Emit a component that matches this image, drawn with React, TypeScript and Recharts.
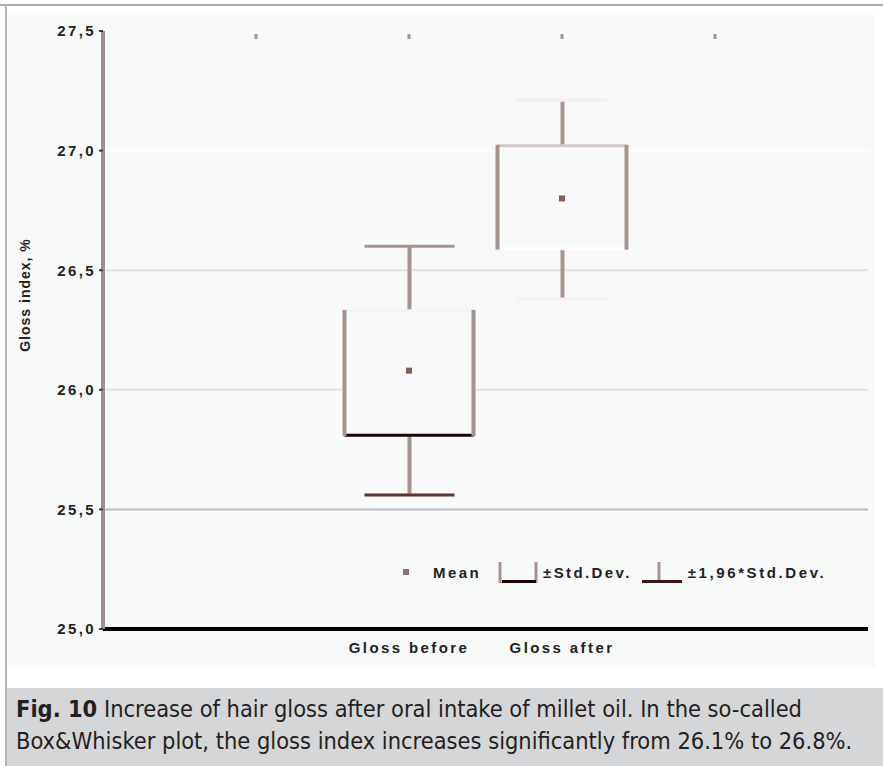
import React from "react";
import {
  ComposedChart, Bar, Scatter, XAxis, YAxis, ReferenceLine, Legend,
} from "recharts";

// values
const groups = ["Gloss before", "Gloss after"];
const groupX = [2, 3];
const means = [26.08, 26.8];
const sdLow = [25.81, 26.59];
const sdHigh = [26.33, 27.02];
const ciLow = [25.56, 26.38];
const ciHigh = [26.6, 27.21];
const yTicks = [25, 25.5, 26, 26.5, 27, 27.5];
const topTicks = [1, 2, 3, 4];
const gridValues = [25.5, 26, 26.5, 27];

const rows = groups.map((g, i) => ({
  x: groupX[i],
  name: g,
  mean: means[i],
  sd: [sdLow[i], sdHigh[i]],
  ci: [ciLow[i], ciHigh[i]],
}));

const PANEL_BG = "#f8f9f9";
const LINE = "#a8948e";
const gridColors = ["#b9bcc2", "#e2e2e4", "#e2e2e4", "#ffffff"];
// the scan shows some box/whisker edges washed out, keep that look
const capTopColor = ["#a8948e", "#f3f0ef"];
const capBottomColor = ["#5a3530", "#f3f0ef"];
const boxTopColor = ["#f6f4f3", "#d6c9c5"];
const boxBottomColor = ["#1c0606", "#ffffff"];

const FONT = "'Liberation Sans', Arial, sans-serif";
const tickFont = { fontFamily: FONT, fontSize: 15, fontWeight: 700, fill: "#222", letterSpacing: 2.4 };

function WhiskerShape(props: any) {
  const { x, y, width, height, index } = props;
  const cx = x + width / 2;
  return (
    <g>
      <line x1={cx} x2={cx} y1={y} y2={y + height} stroke={LINE} strokeWidth={4} />
      <line x1={x} x2={x + width} y1={y} y2={y} stroke={capTopColor[index]} strokeWidth={3} />
      <line x1={x} x2={x + width} y1={y + height} y2={y + height} stroke={capBottomColor[index]} strokeWidth={3} />
    </g>
  );
}

function BoxShape(props: any) {
  const { x, y, width, height, index } = props;
  return (
    <g>
      <rect x={x} y={y} width={width} height={height} fill={PANEL_BG} />
      <line x1={x} x2={x + width} y1={y} y2={y} stroke={boxTopColor[index]} strokeWidth={3} />
      <line x1={x} x2={x + width} y1={y + height} y2={y + height} stroke={boxBottomColor[index]} strokeWidth={3} />
      <line x1={x} x2={x} y1={y - 1} y2={y + height + 1} stroke={LINE} strokeWidth={4} />
      <line x1={x + width} x2={x + width} y1={y - 1} y2={y + height + 1} stroke={LINE} strokeWidth={4} />
    </g>
  );
}

function MeanShape(props: any) {
  const { cx, cy } = props;
  return <rect x={cx - 3} y={cy - 3} width={6} height={6} fill="#7d605a" />;
}

// small tick marks hanging from the top edge of the plot
function TopTick(props: any) {
  const { x, y } = props;
  return <rect x={x - 1.5} y={y + 3} width={3} height={5} fill="#9a9a9a" />;
}

function LegendContent() {
  const txt: React.CSSProperties = { fontFamily: FONT, fontSize: 15, fontWeight: 700, color: "#222", letterSpacing: 2.4, whiteSpace: "nowrap" };
  return (
    <div style={{ display: "flex", alignItems: "center", height: 24 }}>
      <svg width={14} height={24}><rect x={4} y={9} width={6} height={6} fill="#8a6f6a" /></svg>
      <span style={{ ...txt, marginLeft: 20, width: 60, display: "inline-block" }}>Mean</span>
      <svg width={40} height={24} style={{ marginLeft: 5 }}>
        <line x1={2} x2={2} y1={2} y2={23} stroke={LINE} strokeWidth={3} />
        <line x1={38} x2={38} y1={2} y2={23} stroke={LINE} strokeWidth={3} />
        <line x1={4} x2={38} y1={21.5} y2={21.5} stroke="#1c0606" strokeWidth={3} />
      </svg>
      <span style={{ ...txt, marginLeft: 5 }}>±Std.Dev.</span>
      <svg width={40} height={24} style={{ marginLeft: 10 }}>
        <line x1={17} x2={17} y1={2} y2={23} stroke={LINE} strokeWidth={3} />
        <line x1={0} x2={40} y1={21.5} y2={21.5} stroke="#3a1512" strokeWidth={3} />
      </svg>
      <span style={{ ...txt, marginLeft: 6, letterSpacing: 2.6 }}>±1,96*Std.Dev.</span>
    </div>
  );
}

export default function App() {
  return (
    <div style={{ position: "absolute", left: 0, top: 0, width: 883, height: 766, background: "#fff", overflow: "hidden" }}>
      {/* frame */}
      <div style={{ position: "absolute", left: 0, top: 4, width: 883, height: 2, background: "#acacb0" }} />
      <div style={{ position: "absolute", left: 5, top: 4, width: 2, height: 762, background: "#b5b5b8" }} />

      {/* chart panel */}
      <div style={{ position: "absolute", left: 8, top: 15, width: 867, height: 652, background: PANEL_BG }}>
        <ComposedChart width={867} height={652} data={rows} margin={{ top: 8, right: 7, bottom: 8, left: 35 }}>
          <XAxis dataKey="x" type="number" domain={[0, 5]} ticks={groupX}
            tickFormatter={(v: number) => groups[groupX.indexOf(v)] ?? ""}
            axisLine={{ stroke: "#000", strokeWidth: 4 }} tickLine={false} tickSize={0} tickMargin={13}
            tick={tickFont} height={30} />
          <XAxis xAxisId="top" dataKey="x" orientation="top" type="number" domain={[0, 5]} ticks={topTicks}
            axisLine={false} tickLine={false} tickSize={0} tickMargin={0} tick={<TopTick />} height={8} />
          <XAxis xAxisId="w" dataKey="x" type="number" domain={[0, 5]} hide />
          <XAxis xAxisId="b" dataKey="x" type="number" domain={[0, 5]} hide />
          <YAxis type="number" domain={[25, 27.5]} ticks={yTicks} width={60}
            tickFormatter={(v: number) => v.toFixed(1).replace(".", ",")}
            axisLine={{ stroke: "#9c918f", strokeWidth: 4 }} tickSize={4} tickMargin={3}
            tickLine={{ stroke: "#4a3c3a", strokeWidth: 2 }} tick={tickFont} />
          <YAxis yAxisId="r" orientation="right" type="number" domain={[25, 27.5]} width={0}
            tick={false} tickLine={false} axisLine={{ stroke: "#aba5a3", strokeWidth: 5 }} />

          {gridValues.map((v, i) => (
            <ReferenceLine key={v} y={v} stroke={gridColors[i]} strokeWidth={2} zIndex={-50} />
          ))}

          <Legend verticalAlign="middle" align="center" layout="horizontal" content={<LegendContent />}
            wrapperStyle={{ left: 391, top: 545, width: "auto" }} />

          <Bar xAxisId="w" dataKey="ci" name="±1,96*Std.Dev." barSize={90} shape={<WhiskerShape />} isAnimationActive={false} />
          <Bar xAxisId="b" dataKey="sd" name="±Std.Dev." barSize={129} shape={<BoxShape />} isAnimationActive={false} />
          <Scatter xAxisId="top" dataKey="mean" name="Mean" shape={<MeanShape />} isAnimationActive={false} />
        </ComposedChart>
      </div>

      {/* y axis title */}
      <div style={{
        position: "absolute", left: 25, top: 295, transform: "translate(-50%, -50%) rotate(-90deg)",
        fontFamily: FONT, fontSize: 14, fontWeight: 700, color: "#222",
        letterSpacing: 1, whiteSpace: "nowrap",
      }}>Gloss index, %</div>

      {/* caption */}
      <div style={{
        position: "absolute", left: 7, top: 688, width: 876, height: 78, background: "#d5d6d8",
        boxSizing: "border-box", padding: "5px 0 0 9px", whiteSpace: "nowrap",
        fontFamily: "'DejaVu Sans', sans-serif", fontStretch: "condensed", fontSize: 23.4, lineHeight: "32px", color: "#231f20",
      }}>
        <div><b>Fig. 10</b> Increase of hair gloss after oral intake of millet oil. In the so-called</div>
        <div>Box&amp;Whisker plot, the gloss index increases significantly from 26.1% to 26.8%.</div>
      </div>
    </div>
  );
}
